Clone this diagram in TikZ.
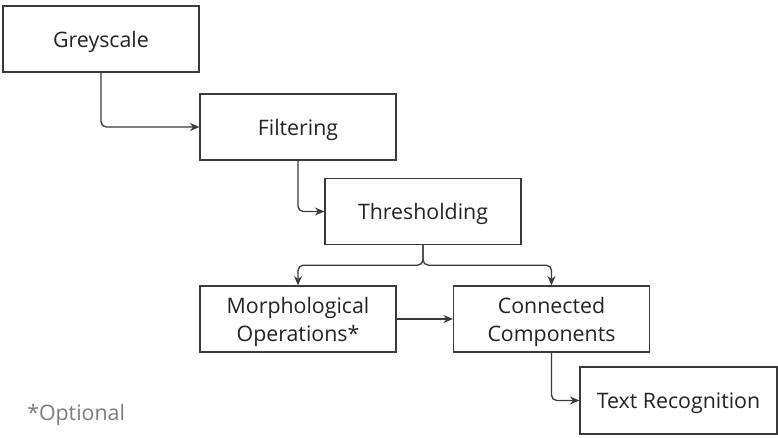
\documentclass[tikz,border=0pt]{standalone}
\usepackage{fontspec}
\setmainfont{Open Sans}
\usetikzlibrary{arrows.meta}
\definecolor{linec}{HTML}{3A3A3A}
\definecolor{textc}{HTML}{222222}
\definecolor{optc}{HTML}{7C7C7C}
\begin{document}
\begin{tikzpicture}[x=0.75pt,y=-0.75pt,
  box/.style={draw=linec,line width=1pt,rectangle,minimum width=147pt,minimum height=49.5pt,
    inner sep=0pt,text depth=0pt,align=center,text=textc,font=\fontsize{16pt}{21pt}\selectfont},
  arr/.style={draw=linec,line width=1pt,rounded corners=4pt,-{Stealth[length=7pt,width=6pt]}}]
\useasboundingbox (0,0) rectangle (778,437);
\node[box] (grey) at (101,39) {Greyscale};
\node[box] (filt) at (298,127) {Filtering};
\node[box] (thr) at (423,211.5) {Thresholding};
\node[box] (morph) at (298,319) {Morphological\\Operations*};
\node[box] (cc) at (551.5,319) {Connected\\Components};
\node[box,minimum width=147.75pt,minimum height=50.25pt] (txt) at (678.5,400.5) {Text Recognition};
\node[anchor=base west,inner sep=0pt,text=optc,font=\fontsize{16pt}{21pt}\selectfont] (opt) at (27,420) {*Optional};
\draw[arr] (grey.south) |- (filt.west);
\draw[arr] (filt.south) |- (thr.west);
\draw[arr] (thr.south) -- ++(0,20) -| (morph.north);
\draw[arr] (thr.south) -- ++(0,20) -| (cc.north);
\draw[arr] (morph.east) -- (cc.west);
\draw[arr] (cc.south) |- (txt.west);
\end{tikzpicture}
\end{document}
